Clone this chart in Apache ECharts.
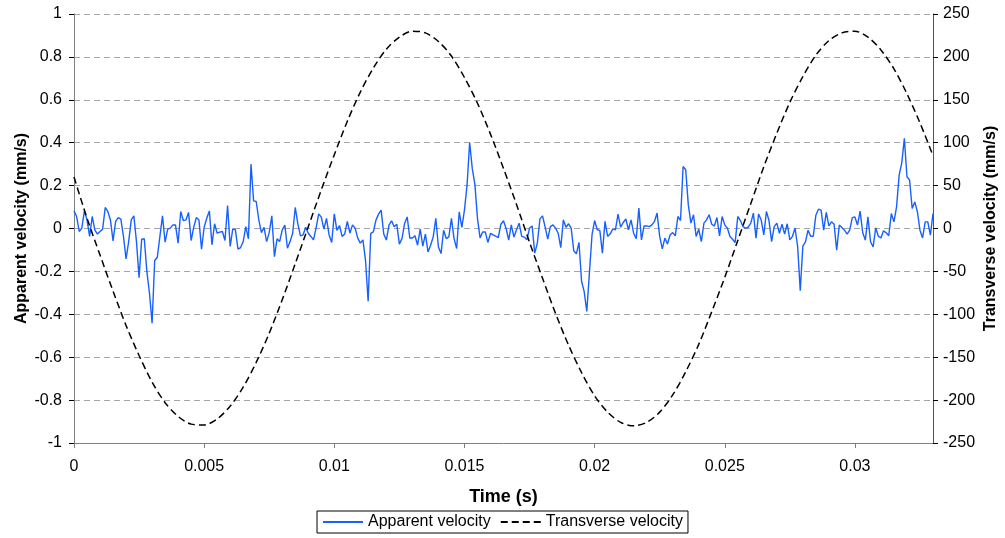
<!DOCTYPE html>
<html><head><meta charset="utf-8">
<script src="https://cdn.jsdelivr.net/npm/echarts@6/dist/echarts.min.js"></script>
<style>html,body{margin:0;padding:0;background:#fff}#c{width:1005px;height:538px}</style>
</head><body><div id="c"></div>
<script>
// Apparent velocity (mm/s), sampled every 0.1 ms from t = 0
const apparentStep = 0.0001;
const apparentVelocity = [
0.082,0.056,-0.014,0.002,0.082,0.040,-0.037,0.056,-0.006,-0.026,
-0.014,-0.003,0.098,0.079,0.040,-0.058,0.033,0.051,0.044,-0.037,
-0.142,-0.061,0.040,0.059,-0.061,-0.229,-0.050,-0.048,-0.201,-0.302,
-0.442,-0.149,-0.134,-0.037,0.059,-0.064,-0.003,0.002,0.017,0.016,
-0.068,0.079,0.037,0.040,0.075,-0.056,0.006,0.051,0.040,-0.096,
0.006,0.048,0.082,-0.076,0.022,-0.022,-0.017,-0.014,
-0.056,0.107,-0.084,-0.002,-0.006,-0.096,-0.089,-0.061,0.009,-0.048,
0.300,0.129,0.126,0.040,-0.019,0.005,-0.061,-0.019,0.059,-0.131,
-0.048,-0.061,-0.006,0.016,-0.092,-0.061,-0.022,0.098,0.022,-0.034,
-0.030,0.006,-0.022,-0.037,-0.053,0.002,0.068,0.053,-0.003,0.047,
-0.030,-0.065,0.068,-0.009,0.014,-0.037,-0.026,0.033,-0.022,0.017,
0.002,-0.045,-0.068,-0.053,-0.150,
-0.339,-0.023,-0.016,0.039,0.067,0.086,-0.026,-0.054,0.016,0.036,
0.008,0.020,-0.073,-0.047,0.023,0.054,-0.044,-0.044,-0.034,-0.078,
-0.003,-0.082,-0.026,-0.109,-0.078,-0.039,0.047,-0.086,-0.117,-0.008,
-0.047,-0.039,0.047,-0.047,-0.093,0.078,0.005,0.086,0.202,0.401,
0.280,0.207,0.047,-0.044,-0.016,-0.016,-0.065,-0.023,-0.030,-0.036,
-0.042,0.020,0.036,0.000,-0.054,
0.017,-0.040,-0.006,0.025,-0.037,-0.040,-0.053,0.002,0.012,-0.115,
-0.068,0.045,0.059,0.006,-0.050,0.009,0.017,0.002,-0.022,-0.089,
0.040,0.006,0.022,0.002,-0.104,-0.118,-0.065,-0.247,-0.294,-0.387,
-0.208,-0.030,0.037,-0.006,-0.009,-0.115,0.033,-0.037,-0.025,-0.002,
-0.006,0.067,0.006,0.028,0.045,-0.006,0.040,-0.022,-0.047,0.095,
-0.053,0.012,0.012,0.009,0.017,0.033,0.072,
-0.037,-0.095,-0.045,-0.072,-0.030,-0.019,-0.034,0.056,0.037,0.289,
0.274,0.110,0.025,0.064,-0.037,-0.003,-0.061,0.025,0.040,0.064,
0.020,0.012,0.051,-0.034,0.056,0.017,0.002,-0.037,-0.050,-0.065,
0.056,0.037,0.009,0.002,0.006,0.025,0.072,-0.045,0.068,0.040,
-0.030,0.079,0.037,-0.061,0.009,0.025,-0.022,0.020,-0.026,0.022,
-0.053,-0.037,0.002,-0.084,-0.290,
-0.082,-0.062,-0.008,-0.036,-0.036,0.062,0.090,0.086,-0.008,0.075,
0.012,0.031,0.020,-0.101,0.016,0.005,-0.008,-0.026,-0.008,0.051,
0.054,0.016,0.081,-0.020,-0.054,0.054,-0.062,-0.086,0.003,-0.036,
-0.044,-0.011,-0.020,-0.034,0.070,0.031,0.101,0.249,0.306,0.420,
0.241,0.226,0.093,0.124,0.078,-0.008,-0.044,0.031,0.031,-0.031,
0.070
];
// Transverse velocity (mm/s), read every 0.5 ms from t = 0
const transverseStep = 0.0005;
const transverseVelocity = [
60,12,-31,-73,-113,-148,-179,-203,-219,-228,
-229,-222,-207,-185,-156,-122,-83,-41,2,45,
86,125,159,187,209,223,230,228,218,201,
176,146,110,70,28,-16,-58,-99,-136,-168,
-195,-214,-226,-230,-226,-214,-194,-167,-135,-97,
-57,-14,29,72,111,147,177,202,219,228,
230,223,208,186,157,123,85
];
const seriesNames = ['Apparent velocity', 'Transverse velocity'];
const xTitle = 'Time (s)';
const yLeftTitle = 'Apparent velocity (mm/s)';
const yRightTitle = 'Transverse velocity (mm/s)';

const FONT = '"Liberation Sans", Arial, sans-serif';
const apparentData = apparentVelocity.map((v, i) => [+(i * apparentStep).toFixed(4), v]);
const transverseData = transverseVelocity.map((v, i) => [+(i * transverseStep).toFixed(4), v]);
const fmt = d => v => String(+(+v).toFixed(d));

const chart = echarts.init(document.getElementById('c'), null, {renderer: 'canvas'});
chart.setOption({
  animation: false,
  backgroundColor: '#ffffff',
  textStyle: {fontFamily: FONT},
  grid: {left: 74, right: 72, top: 14, bottom: 95, containLabel: false, outerBoundsMode: 'none'},
  legend: {
    data: seriesNames,
    left: 'center', top: 511,
    itemWidth: 40, itemHeight: 14, itemGap: 9,
    padding: [3, 5, 3, 5],
    borderColor: '#000', borderWidth: 1,
    itemStyle: {color: 'rgba(0,0,0,0)', borderWidth: 0, opacity: 0},
    textStyle: {fontSize: 16, color: '#000', fontFamily: FONT}
  },
  xAxis: {
    type: 'value', min: 0, max: 0.033, interval: 0.005,
    name: xTitle, nameLocation: 'middle', nameGap: 45, nameMoveOverlap: false,
    nameTextStyle: {fontWeight: 'bold', fontSize: 18, color: '#000', fontFamily: FONT},
    axisLine: {show: true, onZero: false, lineStyle: {color: '#808080', width: 1}},
    axisTick: {show: true, inside: false, length: 5, lineStyle: {color: '#808080'}},
    axisLabel: {color: '#000', fontSize: 16, margin: 16, showMaxLabel: false, formatter: fmt(3), fontFamily: FONT},
    splitLine: {show: false}
  },
  yAxis: [{
    type: 'value', position: 'left', min: -1, max: 1, interval: 0.2,
    name: yLeftTitle, nameLocation: 'middle', nameRotate: 90, nameGap: 44, nameMoveOverlap: false,
    nameTextStyle: {fontWeight: 'bold', fontSize: 16, color: '#000', fontFamily: FONT},
    axisLine: {show: true, onZero: false, lineStyle: {color: '#808080', width: 1}},
    axisTick: {show: true, inside: false, length: 5, lineStyle: {color: '#808080'}},
    axisLabel: {color: '#000', fontSize: 16, margin: 12, formatter: fmt(1), fontFamily: FONT},
    splitLine: {show: true, lineStyle: {color: '#a6a6a6', width: 1, type: [6, 4]}}
  }, {
    type: 'value', position: 'right', min: -250, max: 250, interval: 50,
    name: yRightTitle, nameLocation: 'middle', nameRotate: 90, nameGap: 50, nameMoveOverlap: false,
    nameTextStyle: {fontWeight: 'bold', fontSize: 16, color: '#000', fontFamily: FONT},
    axisLine: {show: true, onZero: false, lineStyle: {color: '#555', width: 1}},
    axisTick: {show: true, inside: false, length: 5, lineStyle: {color: '#000'}},
    axisLabel: {color: '#000', fontSize: 16, margin: 10, formatter: fmt(0), fontFamily: FONT},
    splitLine: {show: false}
  }, {
    type: 'value', position: 'right', min: -250, max: 250, interval: 50,
    axisLine: {show: false},
    axisTick: {show: true, inside: true, length: 5, lineStyle: {color: '#000'}},
    axisLabel: {show: false},
    splitLine: {show: false}
  }],
  series: [{
    name: seriesNames[0], type: 'line', yAxisIndex: 0,
    data: apparentData, symbol: 'none', showSymbol: false,
    lineStyle: {color: '#1760ff', width: 1.4},
    itemStyle: {color: '#1760ff'}, z: 2
  }, {
    name: seriesNames[1], type: 'line', yAxisIndex: 1,
    data: transverseData, symbol: 'none', showSymbol: false, smooth: 0.3,
    lineStyle: {color: '#000', width: 1.5, type: [7, 4]},
    itemStyle: {color: '#000'}, z: 3
  }]
});
</script>
</body></html>
